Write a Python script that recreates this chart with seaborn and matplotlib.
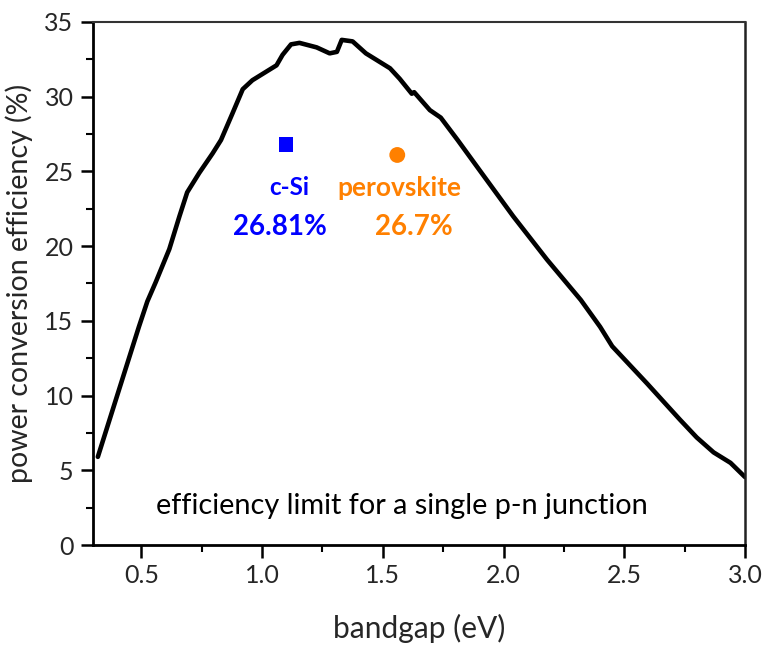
import matplotlib
matplotlib.use("Agg")
import matplotlib.pyplot as plt
import seaborn as sns
import pandas as pd
from matplotlib.ticker import MultipleLocator

# Shockley-Queisser limit
bandgap = [0.32, 0.40, 0.49, 0.525, 0.56, 0.616, 0.658, 0.69, 0.74, 0.795, 0.83, 0.878,
           0.92, 0.96, 1.02, 1.06, 1.085, 1.12, 1.155, 1.226, 1.28, 1.31, 1.33, 1.375,
           1.43, 1.49, 1.53, 1.57, 1.62, 1.63, 1.695, 1.74, 1.81, 1.90, 2.04, 2.18,
           2.32, 2.40, 2.45, 2.595, 2.73, 2.80, 2.87, 2.94, 3.0]
efficiency = [5.9, 10.0, 14.6, 16.3, 17.6, 19.8, 22.0, 23.6, 24.9, 26.2, 27.1, 28.9,
              30.5, 31.1, 31.7, 32.1, 32.8, 33.5, 33.6, 33.3, 32.9, 33.0, 33.8, 33.7,
              32.9, 32.3, 31.9, 31.2, 30.2, 30.3, 29.1, 28.6, 27.1, 25.1, 22.0, 19.1,
              16.4, 14.6, 13.3, 10.8, 8.4, 7.2, 6.2, 5.5, 4.55]

materials = ["c-Si", "perovskite"]
mat_gap = [1.10, 1.56]
mat_eff = [26.81, 26.1]
mat_labels = ["26.81%", "26.7%"]
mat_colors = ["#0000ff", "#ff8000"]
mat_markers = ["s", "o"]

sns.set_style("ticks")
plt.rcParams['font.family'] = ['Lato', 'DejaVu Sans']

fig = plt.figure(figsize=(7.63, 6.46), dpi=100)
ax = fig.add_axes([0.1219, 0.1563, 0.8545, 0.8097])

df = pd.DataFrame({"bandgap": bandgap, "efficiency": efficiency})
sns.lineplot(data=df, x="bandgap", y="efficiency", ax=ax, color="black", lw=3.3,
             sort=False, estimator=None)

name_dx = [0.012, 0.01]
name_fs = [17.5, 19]
lab_dx = [-0.027, 0.067]
for name, gx, gy, lab, col, mk, ndx, nfs, ldx in zip(materials, mat_gap, mat_eff, mat_labels,
                                                     mat_colors, mat_markers, name_dx, name_fs, lab_dx):
    sns.scatterplot(x=[gx], y=[gy], ax=ax, color=col, marker=mk, s=110 if mk == "s" else 130,
                    edgecolor="none", zorder=5)
    ax.text(gx + ndx, 23.9, name, color=col, fontsize=nfs,
            fontweight="bold", ha="center", va="center")
    ax.text(gx + ldx, 21.3, lab, color=col, fontsize=20,
            fontweight="bold", ha="center", va="center")

ax.text(1.58, 2.6, "efficiency limit for a single p-n junction", fontsize=20.8,
        ha="center", va="center", color="black")

ax.set_xlim(0.3, 3.0)
ax.set_ylim(0, 35)
ax.xaxis.set_major_locator(MultipleLocator(0.5))
ax.xaxis.set_minor_locator(MultipleLocator(0.25))
ax.yaxis.set_major_locator(MultipleLocator(5))
ax.yaxis.set_minor_locator(MultipleLocator(2.5))
ax.set_xticks([0.5, 1.0, 1.5, 2.0, 2.5, 3.0])
ax.set_xticklabels(["0.5", "1.0", "1.5", "2.0", "2.5", "3.0"])
ax.tick_params(axis="both", which="major", length=9, width=1.8, labelsize=18, color="black",
               direction="out", pad=5)
ax.tick_params(axis="both", which="minor", length=5, width=1.5, color="black", direction="out")
ax.tick_params(top=False, right=False)

for s in ["left", "bottom"]:
    ax.spines[s].set_linewidth(2)
    ax.spines[s].set_color("black")
ax.spines["top"].set_linewidth(1.5)
ax.spines["top"].set_color("#333333")
ax.spines["right"].set_linewidth(1.8)
ax.spines["right"].set_color("#222222")
ax.spines["top"].set_visible(True)
ax.spines["right"].set_visible(True)

ax.set_xlabel("bandgap (eV)", fontsize=21.5, labelpad=19)
ax.set_ylabel("power conversion efficiency (%)", fontsize=20.5, labelpad=8)

fig.savefig("out.png", dpi=100)
